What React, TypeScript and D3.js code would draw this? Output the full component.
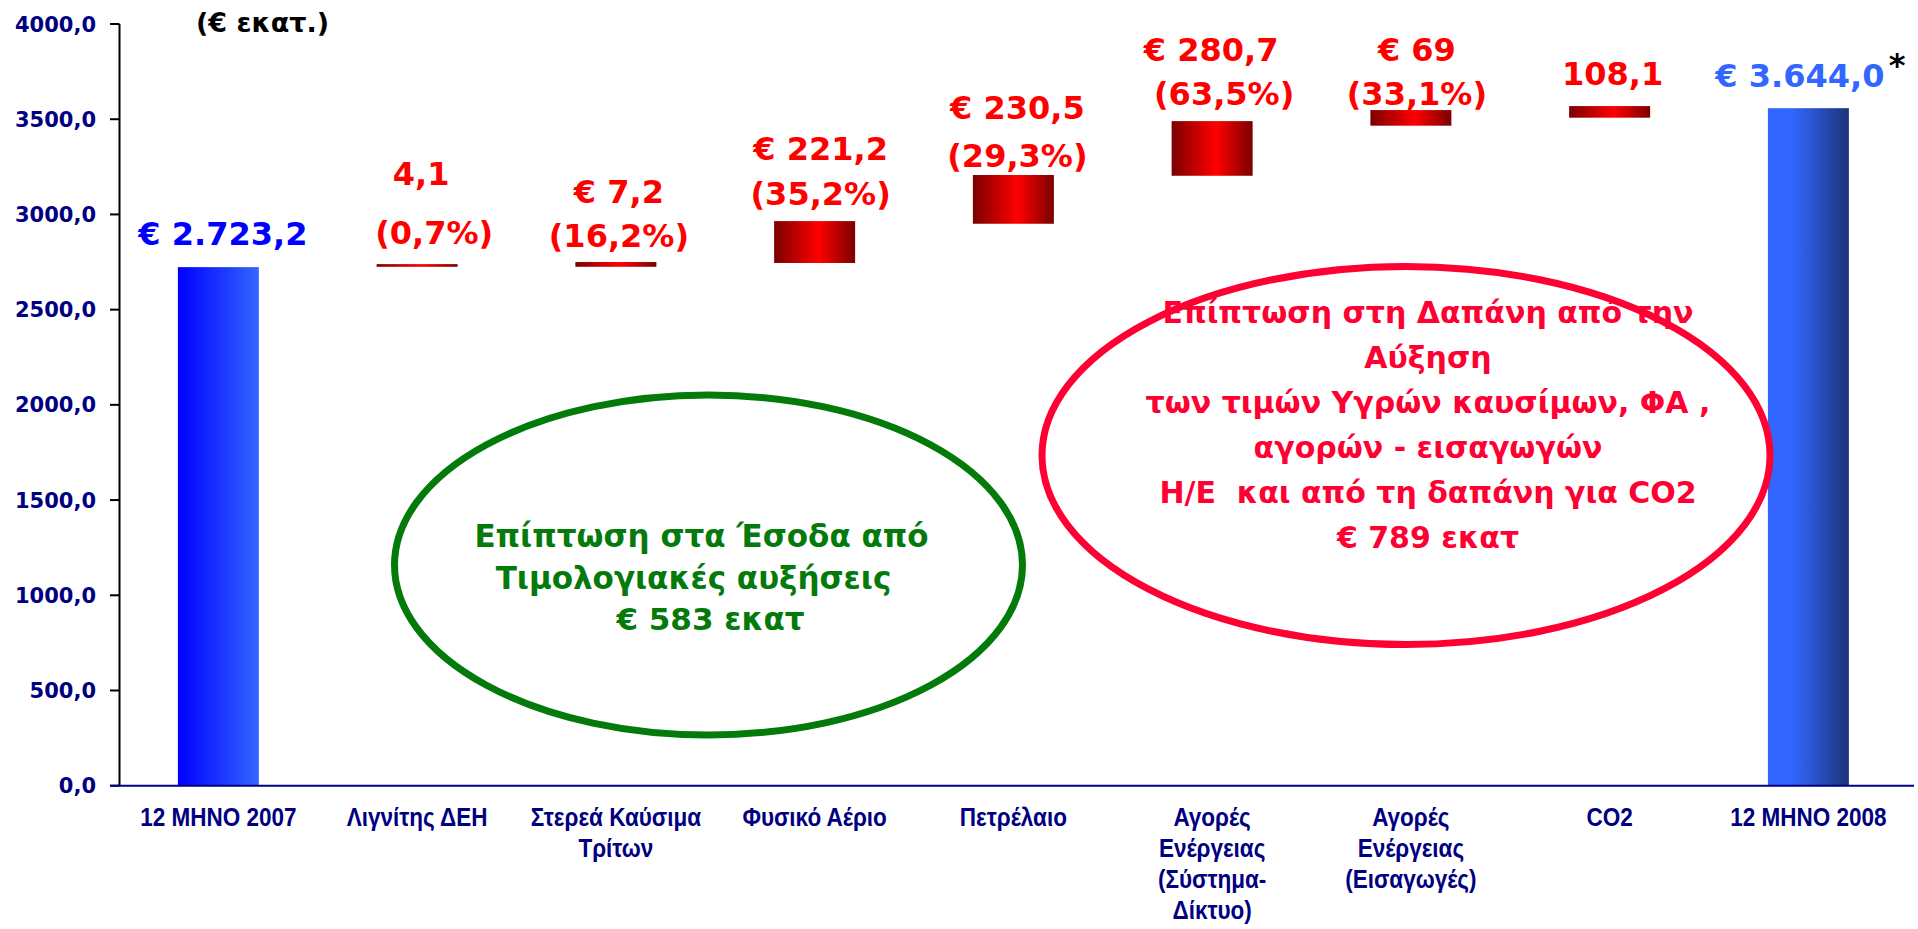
import React from 'react';
import * as d3 from 'd3';

// ---------- data ----------
const categories = [
  '12 ΜΗΝΟ 2007',
  'Λιγνίτης ΔΕΗ',
  'Στερεά Καύσιμα Τρίτων',
  'Φυσικό Αέριο',
  'Πετρέλαιο',
  'Αγορές Ενέργειας (Σύστημα-Δίκτυο)',
  'Αγορές Ενέργειας (Εισαγωγές)',
  'CO2',
  '12 ΜΗΝΟ 2008',
];
const categoryLines = [
  ['12 ΜΗΝΟ 2007'],
  ['Λιγνίτης ΔΕΗ'],
  ['Στερεά Καύσιμα', 'Τρίτων'],
  ['Φυσικό Αέριο'],
  ['Πετρέλαιο'],
  ['Αγορές', 'Ενέργειας', '(Σύστημα-', 'Δίκτυο)'],
  ['Αγορές', 'Ενέργειας', '(Εισαγωγές)'],
  ['CO2'],
  ['12 ΜΗΝΟ 2008'],
];
// bar bottoms and tops as drawn (€ million)
const barStart = [0, 2725, 2725, 2745, 2951, 3203, 3466, 3508, 0];
const barEnd = [2723.2, 2739, 2750, 2965, 3207, 3490, 3548, 3569, 3558];
const valueLabels = ['€ 2.723,2', '4,1', '€ 7,2', '€ 221,2', '€ 230,5', '€ 280,7', '€ 69', '108,1', '€ 3.644,0'];
const shareLabels = ['', '(0,7%)', '(16,2%)', '(35,2%)', '(29,3%)', '(63,5%)', '(33,1%)', '', ''];
const yTicks = [0, 500, 1000, 1500, 2000, 2500, 3000, 3500, 4000];
const unitLabel = '(€ εκατ.)';
const greenNote = ['Επίπτωση στα Έσοδα από', 'Τιμολογιακές αυξήσεις', '€ 583 εκατ'];
const redNote = [
  'Επίπτωση στη Δαπάνη από την',
  'Αύξηση',
  'των τιμών Υγρών καυσίμων, ΦΑ ,',
  'αγορών - εισαγωγών',
  'Η/Ε  και από τη δαπάνη για CO2',
  '€ 789 εκατ',
];

// ---------- layout (annotation placement) ----------
const labelGap = [22, 20, 15, 16, 8, 16, 5, 21, 21];
const labelLineGap = [0, 59, 44, 45, 48, 44, 44, 0, 0];
const valueDx = [4.5, 4, 3, 6, 4, -1, 6, 3, -8.5];
const shareDx = [0, 17, 3, 6, 4, 12, 6, 0, 0];
const greenDx = [-7, -15, 2];

const W = 1918;
const H = 929;
const NAVY = '#000080';
const VFONT = "'DejaVu Sans', Verdana, sans-serif";
const XFONT = "'Liberation Sans', Arial, sans-serif";

export default function App() {
  const x = d3
    .scaleBand<string>()
    .domain(categories)
    .range([119, 1907.75])
    .paddingInner(0.5925)
    .paddingOuter(0.29625);
  const y = d3.scaleLinear().domain([0, 4000]).range([785.7, 24]);
  const fmt = d3
    .formatLocale({ decimal: ',', thousands: '.', grouping: [3], currency: ['€', ''] })
    .format('.1f');
  const bw = x.bandwidth();
  const last = categories.length - 1;

  return (
    <svg
      width={W}
      height={H}
      style={{ position: 'absolute', left: 0, top: 0, display: 'block', background: '#fff' }}
    >
      <defs>
        <linearGradient id="gBlue1" x1="0" x2="1" y1="0" y2="0">
          <stop offset="0" stopColor="#0000FF" />
          <stop offset="1" stopColor="#3366FF" />
        </linearGradient>
        <linearGradient id="gBlue2" x1="0" x2="1" y1="0" y2="0">
          <stop offset="0" stopColor="#3366FF" />
          <stop offset="0.3" stopColor="#3366FF" />
          <stop offset="1" stopColor="#1C3379" />
        </linearGradient>
        <linearGradient id="gRed" x1="0" x2="1" y1="0" y2="0">
          <stop offset="0" stopColor="#7A0000" />
          <stop offset="0.55" stopColor="#FF0000" />
          <stop offset="1" stopColor="#7A0000" />
        </linearGradient>
      </defs>

      {/* bars */}
      {categories.map((c, i) => {
        const y0 = y(barStart[i]);
        const y1 = y(barEnd[i]);
        const fill = i === 0 ? 'url(#gBlue1)' : i === last ? 'url(#gBlue2)' : 'url(#gRed)';
        return <rect key={c} x={x(c)} y={y1} width={bw} height={Math.max(1, y0 - y1)} fill={fill} />;
      })}

      {/* y axis */}
      <line x1={119.5} x2={119.5} y1={y(4000)} y2={y(0)} stroke="#000" strokeWidth={2} />
      {yTicks.map((t) => (
        <g key={t}>
          <line x1={110} x2={119.5} y1={y(t)} y2={y(t)} stroke="#000" strokeWidth={2} />
          <text
            x={96}
            y={y(t)}
            dy="0.36em"
            textAnchor="end"
            fontFamily={VFONT}
            fontWeight="bold"
            fontSize={21}
            fill={NAVY}
          >
            {fmt(t)}
          </text>
        </g>
      ))}
      {/* x axis */}
      <line x1={110} x2={1914} y1={y(0)} y2={y(0)} stroke={NAVY} strokeWidth={2} />

      {/* category labels */}
      {categories.map((c, i) => {
        const cx = (x(c) as number) + bw / 2;
        return (
          <g key={c} transform={`translate(${cx},0) scale(0.9,1)`}>
            <text
              x={0}
              y={826}
              textAnchor="middle"
              fontFamily={XFONT}
              fontWeight="bold"
              fontSize={25}
              fill={NAVY}
            >
              {categoryLines[i].map((ln, k) => (
                <tspan key={k} x={0} dy={k === 0 ? 0 : 31}>
                  {ln}
                </tspan>
              ))}
            </text>
          </g>
        );
      })}

      {/* unit */}
      <text x={196} y={32} fontFamily={VFONT} fontWeight="bold" fontSize={27} fill="#000">
        {unitLabel}
      </text>

      {/* value labels */}
      {categories.map((c, i) => {
        const cx = (x(c) as number) + bw / 2;
        const base = y(barEnd[i]) - labelGap[i];
        const color = i === 0 ? '#0000FF' : i === last ? '#3366FF' : '#FF0000';
        const hasShare = shareLabels[i] !== '';
        return (
          <g key={c} fontFamily={VFONT} fontWeight="bold" fontSize={32} fill={color} textAnchor="middle">
            <text x={cx + valueDx[i]} y={hasShare ? base - labelLineGap[i] : base}>
              {valueLabels[i]}
            </text>
            {hasShare && (
              <text x={cx + shareDx[i]} y={base}>
                {shareLabels[i]}
              </text>
            )}
          </g>
        );
      })}
      <text x={1897} y={76} textAnchor="middle" fontFamily={VFONT} fontWeight="bold" fontSize={32} fill="#000">
        *
      </text>

      {/* green note */}
      <ellipse cx={708.5} cy={565} rx={314} ry={170} fill="none" stroke="#037A0A" strokeWidth={7} />
      {greenNote.map((t, k) => (
        <text
          key={k}
          x={708.5 + greenDx[k]}
          y={547 + k * 41.5}
          textAnchor="middle"
          fontFamily={VFONT}
          fontWeight="bold"
          fontSize={31}
          fill="#037A0A"
        >
          {t}
        </text>
      ))}

      {/* red note */}
      <ellipse cx={1406} cy={455.5} rx={364} ry={189} fill="none" stroke="#FF0033" strokeWidth={7} />
      {redNote.map((t, k) => (
        <text
          key={k}
          x={1428}
          y={323 + k * 45}
          textAnchor="middle"
          fontFamily={VFONT}
          fontWeight="bold"
          fontSize={30}
          fill="#FF0033"
          style={{ whiteSpace: 'pre' }}
        >
          {t}
        </text>
      ))}
    </svg>
  );
}
